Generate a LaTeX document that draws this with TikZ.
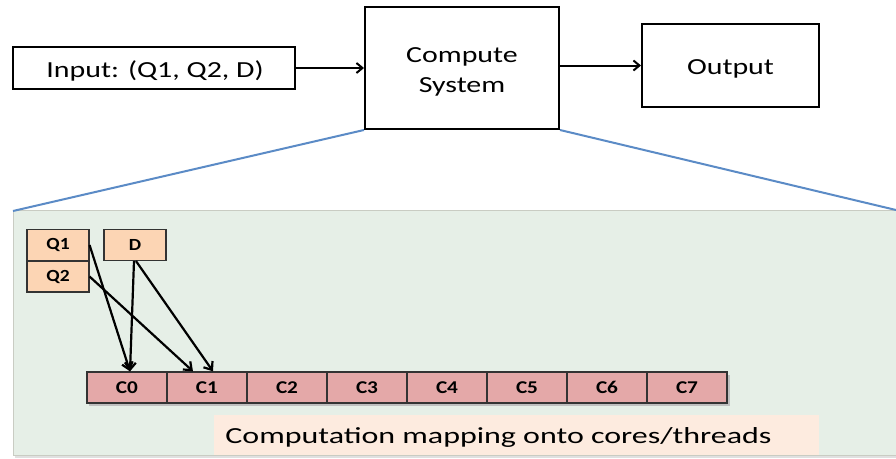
\documentclass[tikz,border=0pt]{standalone}
\usepackage{fontspec}
\setmainfont{Carlito}
\usetikzlibrary{arrows.meta}
\definecolor{panelgreen}{HTML}{E6EFE7}
\definecolor{panelline}{HTML}{C9CCC3}
\definecolor{peach}{HTML}{FCD5B4}
\definecolor{corered}{HTML}{E4A8A8}
\definecolor{capfill}{HTML}{FDEBDF}
\definecolor{zoomblue}{HTML}{5B8BC6}
% wide lettering
\newcommand{\widetxt}[2]{\scalebox{#1}[1]{#2}}
\tikzset{
  blockbox/.style={draw=black, line width=2pt, fill=white, inner sep=0pt},
  blocktext/.style={font=\fontsize{23}{26}\selectfont, inner sep=0pt},
  databox/.style={draw=black!80, line width=1.1pt, fill=peach, minimum width=62pt, minimum height=31pt, inner sep=0pt, font=\bfseries\fontsize{17}{19}\selectfont},
  corebox/.style={draw=black!80, line width=1.3pt, fill=corered, minimum width=80pt, minimum height=31pt, inner sep=0pt, font=\bfseries\fontsize{18}{20}\selectfont},
  flow/.style={-{Straight Barb[length=6pt,width=10pt]}, line width=2pt},
  maparrow/.style={-{Straight Barb[length=7pt,width=11pt]}, line width=2.2pt},
  zoomline/.style={draw=zoomblue, line width=2pt}
}
\begin{document}
\begin{tikzpicture}[x=1pt,y=-1pt]
\useasboundingbox (0,0) rectangle (896,458);

% expanded view panel
\fill[black!12] (15,212) rectangle (898,458);
\filldraw[fill=panelgreen, draw=panelline, line width=1pt] (13,210) rectangle (898,455);

% top level block diagram
\node[blockbox, minimum width=282pt, minimum height=42pt] (inp) at (154,68) {};
\node[blocktext] (inptxt) at (155,71) {\widetxt{1.3}{Input: (Q1, Q2, D)}};
\node[blockbox, minimum width=194pt, minimum height=122pt] (cs) at (462,68) {};
\node[blocktext, align=center, font=\fontsize{23}{30}\selectfont] (cstxt) at (462,72) {\widetxt{1.3}{Compute}\\\widetxt{1.3}{System}};
\node[blockbox, minimum width=177pt, minimum height=83pt] (out) at (730.5,65.5) {};
\node[blocktext] (outtxt) at (730.5,69) {\widetxt{1.3}{Output}};
\draw[flow] (inp.east) -- (cs.west |- inp.east);
\draw[flow] (cs.east |- out.west) -- (out.west);

% zoom lines from the compute block to the panel
\coordinate (zl) at (13,211);
\coordinate (zr) at (896,210);
\draw[zoomline] (cs.south west) -- (zl);
\draw[zoomline] (cs.south east) -- (zr);

% inputs
\node[databox] (q1) at (58,245) {\widetxt{1.15}{Q1}};
\node[databox] (q2) at (58,276.5) {\widetxt{1.15}{Q2}};
\node[databox] (d) at (135,245) {\widetxt{1.15}{D}};

% cores
\fill[black!25] (89,375) rectangle (730,406);
\foreach \i in {0,...,7} {
  \node[corebox] (c\i) at (127+80*\i,387.5) {\widetxt{1.18}{C\i}};
}

% mapping arrows
\draw[maparrow] (q1.east) -- ([xshift=3pt]c0.north);
\draw[maparrow] (q2.east) -- ([xshift=-14pt]c1.north);
\draw[maparrow] ([xshift=-1pt]d.south) -- ([xshift=3pt]c0.north);
\draw[maparrow] ([xshift=1pt]d.south) -- ([xshift=6pt]c1.north);

% caption
\node[fill=capfill, minimum width=605pt, minimum height=40pt, inner sep=0pt] (cap) at (516.5,435) {};
\node[blocktext] (captxt) at (498.5,437) {\widetxt{1.39}{Computation mapping onto cores/threads}};
\end{tikzpicture}
\end{document}
